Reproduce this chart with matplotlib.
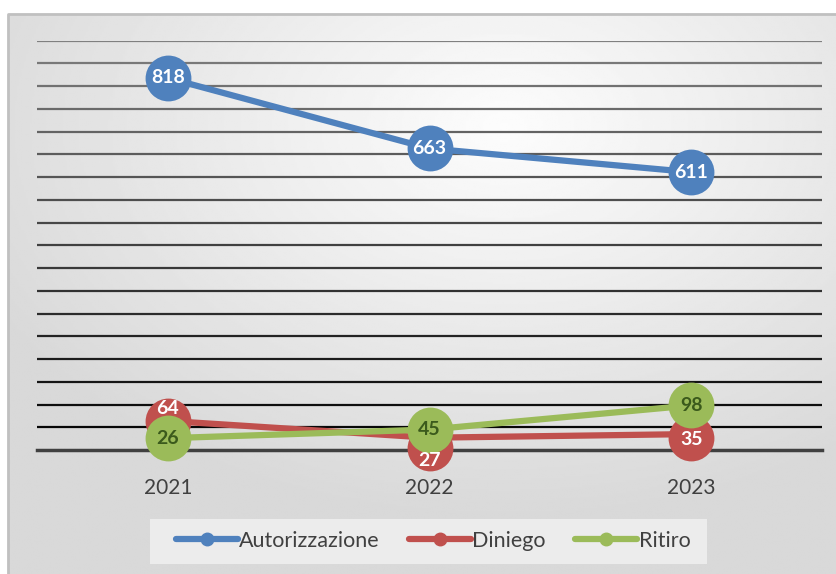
import numpy as np
import matplotlib.pyplot as plt
from matplotlib.transforms import offset_copy
from matplotlib.patches import Rectangle

years = ["2021", "2022", "2023"]
autorizzazione = [818, 663, 611]
diniego = [64, 27, 35]
ritiro = [26, 45, 98]

series = [
    ("Autorizzazione", autorizzazione, "#4f81bd", "white"),
    ("Diniego", diniego, "#c0504d", "white"),
    ("Ritiro", ritiro, "#9bbb59", "#3b5a1c"),
]

plt.rcParams['font.family'] = ['Lato', 'DejaVu Sans']

W, H = 836, 574
fig = plt.figure(figsize=(W / 100, H / 100), dpi=100)
fig.patch.set_facecolor("white")

# background panel with soft radial gradient
bx0, by1 = 8 / W, 1 - 14 / H
bg = fig.add_axes([bx0, 0, 1 - bx0, by1])
yy, xx = np.mgrid[0:1:300j, 0:1:400j]
r = np.sqrt(((xx - 0.6) / 0.85) ** 2 + ((yy - 0.2) / 0.85) ** 2)
shade = np.clip(0.99 - 0.17 * r, 0.85, 0.99)
bg.imshow(shade, cmap="gray", vmin=0, vmax=1, aspect="auto",
          extent=[0, 1, 0, 1], origin="upper")
bg.plot([0, 0, 1], [0, 1, 1], color="#c0c0c0", lw=2, transform=bg.transAxes,
        clip_on=False)
bg.set_xlim(0, 1)
bg.set_ylim(0, 1)
bg.set_xticks([])
bg.set_yticks([])
for s in bg.spines.values():
    s.set_visible(False)

ax = fig.add_axes([37 / W, 1 - 450 / H, (822 - 37) / W, (450 - 40.7) / H])
ax.set_facecolor("none")
x = np.arange(len(years))
ax.set_xlim(-0.5, 2.5)
ax.set_ylim(0, 900)
ax.set_yticks(np.arange(0, 901, 50))
ax.tick_params(axis="y", left=False, labelleft=False)
ax.tick_params(axis="x", length=0, pad=20, labelsize=15, labelcolor="#404040")
ax.set_xticks(x)
ax.set_xticklabels(years)
for s in ["top", "right", "left"]:
    ax.spines[s].set_visible(False)
ax.spines["bottom"].set_color("#404040")
ax.spines["bottom"].set_linewidth(2.5)
ax.spines["bottom"].set_zorder(1)

for t in ax.get_yticks()[1:]:
    g = 0.5 * (t / 900)
    ax.axhline(t, color=str(round(g, 3)), lw=1.6, zorder=0)

handles = []
for name, vals, col, _ in series:
    h, = ax.plot(x, vals, color=col, lw=4.5, solid_capstyle="round",
                 marker="o", ms=9, zorder=2, label=name)
    handles.append(h)

# labels as filled circles: (series, point) -> (circle dy px, text dy px)
offsets = {(1, 0): (0, 12), (1, 1): (-10, -23), (1, 2): (-4, -5)}
for si, (name, vals, col, tcol) in enumerate(series):
    for i, v in enumerate(vals):
        cdy, tdy = offsets.get((si, i), (0, 0))
        tc = offset_copy(ax.transData, fig=fig, x=0, y=cdy * 0.72, units="points")
        tt = offset_copy(ax.transData, fig=fig, x=0, y=tdy * 0.72, units="points")
        ax.plot([i], [v], "o", ms=33, color=col, mec="none",
                transform=tc, zorder=3 + si, clip_on=False)
        ax.text(i, v, str(v), transform=tt, ha="center", va="center",
                fontsize=14, fontweight="bold", color=tcol,
                zorder=10, clip_on=False)

# legend box drawn separately so its padding matches
fig.patches.append(Rectangle((150 / W, 1 - 564 / H), (707 - 150) / W, 45 / H,
                             transform=fig.transFigure, facecolor="#ececec",
                             edgecolor="none", zorder=1))
leg = fig.legend(handles=handles, loc="center", bbox_to_anchor=(433 / W, 1 - 541 / H),
                 ncol=3, frameon=False, fontsize=15.5, handlelength=2.9,
                 handletextpad=0.05, columnspacing=1.35, borderpad=0.3)
for t in leg.get_texts():
    t.set_color("#404040")

fig.savefig("out.png", dpi=100)
